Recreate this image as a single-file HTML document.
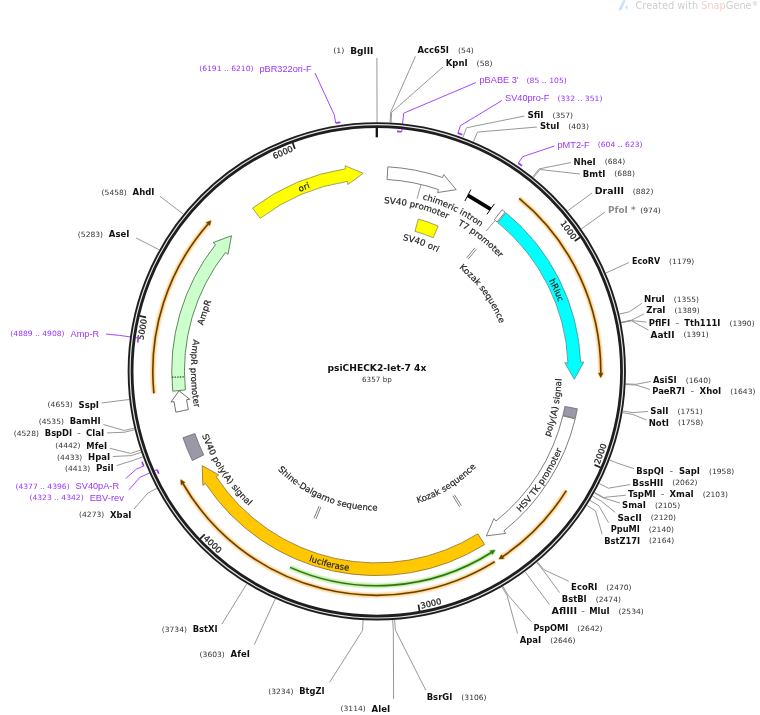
<!DOCTYPE html>
<html lang="en"><head><meta charset="utf-8"><title>psiCHECK2-let-7 4x</title>
<style>
html,body{margin:0;padding:0;background:#fff;}
body{width:760px;height:715px;overflow:hidden;}
svg{display:block;}
text{white-space:pre;}
</style></head><body>
<svg width="760" height="715" viewBox="0 0 760 715">
<defs>
<path id="tp1" d="M281.87,200.71 A194.76,194.76 0 0,1 329.43,182.01"/>
<path id="tp2" d="M364.09,203.63 A167.86,167.86 0 0,1 465.05,228.57"/>
<path id="tp3" d="M402.72,195.16 A177.86,177.86 0 0,1 496.03,239.52"/>
<path id="tp4" d="M439.6,216.12 A167.36,167.36 0 0,1 512.28,273.48"/>
<path id="tp5" d="M382.7,237.64 A133.56,133.56 0 0,1 454.36,262.67"/>
<path id="tp6" d="M442.63,256.85 A132.06,132.06 0 0,1 505.32,342.86"/>
<path id="tp7" d="M538.58,263.37 A194.76,194.76 0 0,1 564.58,321.22"/>
<path id="tp8" d="M541.49,455.32 A185.44,185.44 0 0,0 561.32,358.63"/>
<path id="tp9" d="M505.5,525.86 A201.64,201.64 0 0,0 568.79,431.09"/>
<path id="tp10" d="M398.26,507.74 A138.44,138.44 0 0,0 488.96,451.51"/>
<path id="tp11" d="M290.39,553.47 A201.64,201.64 0 0,0 368.79,572.55"/>
<path id="tp12" d="M264.65,454.58 A139.44,139.44 0 0,0 397.5,508.87"/>
<path id="tp13" d="M196.09,416.05 A185.74,185.74 0 0,0 263.93,518.95"/>
<path id="tp14" d="M198.04,319.93 A185.44,185.44 0 0,0 199.5,426.99"/>
<path id="tp15" d="M199.13,345.13 A179.06,179.06 0 0,1 220.16,283.4"/>
</defs>
<polyline points="376.8,127.45 376.8,137.3" fill="none" stroke="#111" stroke-width="2.3"/>
<polyline points="580.28,237.28 574.73,240.94" fill="none" stroke="#222" stroke-width="1.7"/>
<text x="568.64" y="232.92" font-family='"DejaVu Sans", "Liberation Sans", sans-serif' font-size="8.3" fill="#222" stroke="#222" stroke-width="0.25" text-anchor="middle" textLength="21.11" lengthAdjust="spacingAndGlyphs" transform="rotate(53.61 568.64 229.93)">1000</text>
<polyline points="600.65,467.52 594.54,464.9" fill="none" stroke="#222" stroke-width="1.7"/>
<text x="600.38" y="456.74" font-family='"DejaVu Sans", "Liberation Sans", sans-serif' font-size="8.3" fill="#222" stroke="#222" stroke-width="0.25" text-anchor="middle" textLength="21.11" lengthAdjust="spacingAndGlyphs" transform="rotate(290.24 600.38 453.75)">2000</text>
<polyline points="419.56,611.17 418.4,604.62" fill="none" stroke="#222" stroke-width="1.7"/>
<text x="430.92" y="606.36" font-family='"DejaVu Sans", "Liberation Sans", sans-serif' font-size="8.3" fill="#222" stroke="#222" stroke-width="0.25" text-anchor="middle" textLength="21.11" lengthAdjust="spacingAndGlyphs" transform="rotate(346.87 430.92 603.37)">3000</text>
<polyline points="200,538.95 204.82,534.37" fill="none" stroke="#222" stroke-width="1.7"/>
<text x="212.75" y="547.13" font-family='"DejaVu Sans", "Liberation Sans", sans-serif' font-size="8.3" fill="#222" stroke="#222" stroke-width="0.25" text-anchor="middle" textLength="21.11" lengthAdjust="spacingAndGlyphs" transform="rotate(403.5 212.75 544.15)">4000</text>
<polyline points="139.54,315.86 146.02,317.37" fill="none" stroke="#222" stroke-width="1.7"/>
<text x="142.22" y="332.36" font-family='"DejaVu Sans", "Liberation Sans", sans-serif' font-size="8.3" fill="#222" stroke="#222" stroke-width="0.25" text-anchor="middle" textLength="21.11" lengthAdjust="spacingAndGlyphs" transform="rotate(280.13 142.22 329.37)">5000</text>
<polyline points="292.6,142.66 294.9,148.9" fill="none" stroke="#222" stroke-width="1.7"/>
<text x="282.79" y="155.32" font-family='"DejaVu Sans", "Liberation Sans", sans-serif' font-size="8.3" fill="#222" stroke="#222" stroke-width="0.25" text-anchor="middle" textLength="21.11" lengthAdjust="spacingAndGlyphs" transform="rotate(336.76 282.79 152.33)">6000</text>
<path d="M519.2,198.39 A224,224 0 0,1 600.79,373.24" fill="none" stroke="#ffac28" stroke-width="6.4" stroke-opacity="0.14" stroke-linecap="butt"/>
<path d="M519.2,198.39 A224,224 0 0,1 600.79,373.24" fill="none" stroke="#ffac28" stroke-width="5" stroke-opacity="0.2"/>
<path d="M519.2,198.39 A224,224 0 0,1 600.79,373.24" fill="none" stroke="#ffac28" stroke-width="3.4" stroke-opacity="0.36"/>
<path d="M602.99,373.26 L600.72,377.44 L598.59,373.22 Z" fill="#ffac28" stroke="#ffac28" stroke-width="2.4" stroke-opacity="0.35" stroke-linejoin="round"/>
<path d="M519.2,198.39 A224,224 0 0,1 600.79,373.24" fill="none" stroke="#664000" stroke-width="1.6"/>
<path d="M602.99,373.26 L600.72,377.44 L598.59,373.22 Z" fill="#664000" stroke="#664000" stroke-width="0.5"/>
<path d="M566.33,490.69 A224,224 0 0,1 502.63,556.62" fill="none" stroke="#ffac28" stroke-width="6.4" stroke-opacity="0.14" stroke-linecap="butt"/>
<path d="M566.33,490.69 A224,224 0 0,1 502.63,556.62" fill="none" stroke="#ffac28" stroke-width="5" stroke-opacity="0.2"/>
<path d="M566.33,490.69 A224,224 0 0,1 502.63,556.62" fill="none" stroke="#ffac28" stroke-width="3.4" stroke-opacity="0.36"/>
<path d="M503.86,558.44 L499.13,558.95 L501.39,554.8 Z" fill="#ffac28" stroke="#ffac28" stroke-width="2.4" stroke-opacity="0.35" stroke-linejoin="round"/>
<path d="M566.33,490.69 A224,224 0 0,1 502.63,556.62" fill="none" stroke="#664000" stroke-width="1.6"/>
<path d="M503.86,558.44 L499.13,558.95 L501.39,554.8 Z" fill="#664000" stroke="#664000" stroke-width="0.5"/>
<path d="M494.83,561.68 A224,224 0 0,1 182.92,483.49" fill="none" stroke="#ffac28" stroke-width="6.4" stroke-opacity="0.14" stroke-linecap="butt"/>
<path d="M494.83,561.68 A224,224 0 0,1 182.92,483.49" fill="none" stroke="#ffac28" stroke-width="5" stroke-opacity="0.2"/>
<path d="M494.83,561.68 A224,224 0 0,1 182.92,483.49" fill="none" stroke="#ffac28" stroke-width="3.4" stroke-opacity="0.36"/>
<path d="M181.01,484.59 L180.85,479.83 L184.82,482.38 Z" fill="#ffac28" stroke="#ffac28" stroke-width="2.4" stroke-opacity="0.35" stroke-linejoin="round"/>
<path d="M494.83,561.68 A224,224 0 0,1 182.92,483.49" fill="none" stroke="#664000" stroke-width="1.6"/>
<path d="M181.01,484.59 L180.85,479.83 L184.82,482.38 Z" fill="#664000" stroke="#664000" stroke-width="0.5"/>
<path d="M153.89,393.35 A224,224 0 0,1 208.08,223.96" fill="none" stroke="#ffac28" stroke-width="6.4" stroke-opacity="0.14" stroke-linecap="butt"/>
<path d="M153.89,393.35 A224,224 0 0,1 208.08,223.96" fill="none" stroke="#ffac28" stroke-width="5" stroke-opacity="0.2"/>
<path d="M153.89,393.35 A224,224 0 0,1 208.08,223.96" fill="none" stroke="#ffac28" stroke-width="3.4" stroke-opacity="0.36"/>
<path d="M206.42,222.51 L210.87,220.82 L209.73,225.41 Z" fill="#ffac28" stroke="#ffac28" stroke-width="2.4" stroke-opacity="0.35" stroke-linejoin="round"/>
<path d="M153.89,393.35 A224,224 0 0,1 208.08,223.96" fill="none" stroke="#664000" stroke-width="1.6"/>
<path d="M206.42,222.51 L210.87,220.82 L209.73,225.41 Z" fill="#664000" stroke="#664000" stroke-width="0.5"/>
<path d="M290.04,567.36 A214.4,214.4 0 0,0 491.42,552.49" fill="none" stroke="#8fe050" stroke-width="6.4" stroke-opacity="0.14" stroke-linecap="butt"/>
<path d="M290.04,567.36 A214.4,214.4 0 0,0 491.42,552.49" fill="none" stroke="#8fe050" stroke-width="5" stroke-opacity="0.2"/>
<path d="M290.04,567.36 A214.4,214.4 0 0,0 491.42,552.49" fill="none" stroke="#8fe050" stroke-width="3.4" stroke-opacity="0.36"/>
<path d="M492.6,554.35 L494.95,550.21 L490.25,550.63 Z" fill="#8fe050" stroke="#8fe050" stroke-width="2.4" stroke-opacity="0.35" stroke-linejoin="round"/>
<path d="M290.04,567.36 A214.4,214.4 0 0,0 491.42,552.49" fill="none" stroke="#2f7318" stroke-width="1.6"/>
<path d="M492.6,554.35 L494.95,550.21 L490.25,550.63 Z" fill="#2f7318" stroke="#2f7318" stroke-width="0.5"/>
<path d="M252.61,208.13 A204.55,204.55 0 0,1 345.53,168.83 L345.06,165.71 L363.18,173.28 L347.92,184.5 L347.44,181.38 A191.85,191.85 0 0,0 260.29,218.25 Z" fill="#ffff00" stroke="#8a8a55" stroke-width="0.8" stroke-linejoin="miter"/>
<path d="M387.82,166.82 A204.55,204.55 0 0,1 442.65,177.56 L443.67,174.58 L456.23,189.68 L437.51,192.55 L438.53,189.57 A191.85,191.85 0 0,0 387.1,179.5 Z" fill="#ffffff" stroke="#787878" stroke-width="0.95" stroke-linejoin="miter"/>
<path d="M418.32,219.1 A157.65,157.65 0 0,1 438.17,226.05 L433.18,237.73 A144.95,144.95 0 0,0 414.94,231.34 Z" fill="#ffff00" stroke="#8a8a55" stroke-width="0.8" stroke-linejoin="miter"/>
<polyline points="467.89,195.28 490.62,209.14" fill="none" stroke="#000" stroke-width="3.8"/>
<polyline points="464.93,200.96 470.84,189.6" fill="none" stroke="#000" stroke-width="1"/>
<polyline points="486.93,214.37 494.31,203.91" fill="none" stroke="#000" stroke-width="1"/>
<path d="M502.07,209.74 A204.55,204.55 0 0,1 505.08,212.13 L497.08,221.99 A191.85,191.85 0 0,0 494.26,219.75 Z" fill="#ffffff" stroke="#707070" stroke-width="0.9" stroke-linejoin="miter"/>
<path d="M505.86,212.76 A204.55,204.55 0 0,1 580.66,362.16 L583.8,362.02 L574.33,379.23 L564.82,362.84 L567.97,362.71 A191.85,191.85 0 0,0 497.82,222.59 Z" fill="#00ffff" stroke="#4a8f8f" stroke-width="0.8" stroke-linejoin="miter"/>
<path d="M577.34,408.79 A204.55,204.55 0 0,1 575.28,418.48 L562.92,415.53 A191.85,191.85 0 0,0 564.86,406.45 Z" fill="#9a9aa6" stroke="#6a6a78" stroke-width="0.8" stroke-linejoin="miter"/>
<path d="M575.18,418.87 A204.55,204.55 0 0,1 503.86,530.95 L505.82,533.42 L486.34,535.9 L493.97,518.56 L495.94,521.03 A191.85,191.85 0 0,0 562.83,415.9 Z" fill="#ffffff" stroke="#787878" stroke-width="0.95" stroke-linejoin="miter"/>
<path d="M484.6,544.58 A204.55,204.55 0 0,1 205.5,483.6 L202.87,485.34 L202.16,465.71 L218.74,474.88 L216.11,476.62 A191.85,191.85 0 0,0 477.87,533.8 Z" fill="#ffc800" stroke="#8a7030" stroke-width="0.8" stroke-linejoin="miter"/>
<path d="M192.33,460.47 A204.55,204.55 0 0,1 182.91,437.69 L194.92,433.55 A191.85,191.85 0 0,0 203.75,454.92 Z" fill="#9a9aa6" stroke="#6a6a78" stroke-width="0.8" stroke-linejoin="miter"/>
<path d="M175.92,412.16 A204.55,204.55 0 0,1 174.05,401.62 L170.93,402.1 L179.08,390.75 L189.72,399.26 L186.61,399.73 A191.85,191.85 0 0,0 188.37,409.61 Z" fill="#ffffff" stroke="#707070" stroke-width="1" stroke-linejoin="miter"/>
<path d="M172.74,391.18 A204.55,204.55 0 0,1 215.55,244.56 L213.07,242.62 L231.47,235.74 L228,254.36 L225.53,252.42 A191.85,191.85 0 0,0 185.38,389.93 Z" fill="#ccffcc" stroke="#4f7a4f" stroke-width="0.9" stroke-linejoin="miter"/>
<path d="M183.79,376.9 L171.99,377.26" stroke="#2a5a2a" stroke-width="1.3" stroke-dasharray="1.4,1.2" fill="none"/>
<polyline points="466.65,258.03 474.77,247.87" fill="none" stroke="#787878" stroke-width="0.95"/>
<polyline points="468.14,259.23 476.39,249.19" fill="none" stroke="#787878" stroke-width="0.95"/>
<polyline points="454.45,494.73 461.39,505.72" fill="none" stroke="#787878" stroke-width="0.95"/>
<polyline points="452.82,495.74 459.62,506.82" fill="none" stroke="#787878" stroke-width="0.95"/>
<polyline points="320.85,506.97 315.94,519.01" fill="none" stroke="#787878" stroke-width="0.95"/>
<polyline points="319.08,506.24 314.01,518.21" fill="none" stroke="#787878" stroke-width="0.95"/>
<text font-family='"DejaVu Sans", "Liberation Sans", sans-serif' font-size="8.6" fill="#222" stroke="#222" stroke-width="0.18" text-anchor="middle" textLength="11.25" lengthAdjust="spacingAndGlyphs"><textPath href="#tp1" startOffset="50%" textLength="11.25" lengthAdjust="spacingAndGlyphs">ori</textPath></text>
<text font-family='"DejaVu Sans", "Liberation Sans", sans-serif' font-size="8.6" fill="#222" stroke="#222" stroke-width="0.18" text-anchor="middle" textLength="65.73" lengthAdjust="spacingAndGlyphs"><textPath href="#tp2" startOffset="50%" textLength="65.73" lengthAdjust="spacingAndGlyphs">SV40 promoter</textPath></text>
<polyline points="420.89,185.02 417.04,198.8" fill="none" stroke="#8c8c8c" stroke-width="0.9"/>
<text font-family='"DejaVu Sans", "Liberation Sans", sans-serif' font-size="8.6" fill="#222" stroke="#222" stroke-width="0.18" text-anchor="middle" textLength="64.83" lengthAdjust="spacingAndGlyphs"><textPath href="#tp3" startOffset="50%" textLength="64.83" lengthAdjust="spacingAndGlyphs">chimeric intron</textPath></text>
<text font-family='"DejaVu Sans", "Liberation Sans", sans-serif' font-size="8.6" fill="#222" stroke="#222" stroke-width="0.18" text-anchor="middle" textLength="53.8" lengthAdjust="spacingAndGlyphs"><textPath href="#tp4" startOffset="50%" textLength="53.8" lengthAdjust="spacingAndGlyphs">T7 promoter</textPath></text>
<polyline points="495.13,220.49 486.16,231" fill="none" stroke="#8c8c8c" stroke-width="0.9"/>
<text font-family='"DejaVu Sans", "Liberation Sans", sans-serif' font-size="8.6" fill="#222" stroke="#222" stroke-width="0.18" text-anchor="middle" textLength="36.97" lengthAdjust="spacingAndGlyphs"><textPath href="#tp5" startOffset="50%" textLength="36.97" lengthAdjust="spacingAndGlyphs">SV40 ori</textPath></text>
<text font-family='"DejaVu Sans", "Liberation Sans", sans-serif' font-size="8.6" fill="#222" stroke="#222" stroke-width="0.18" text-anchor="middle" textLength="69.55" lengthAdjust="spacingAndGlyphs"><textPath href="#tp6" startOffset="50%" textLength="69.55" lengthAdjust="spacingAndGlyphs">Kozak sequence</textPath></text>
<text font-family='"DejaVu Sans", "Liberation Sans", sans-serif' font-size="8.6" fill="#222" stroke="#222" stroke-width="0.18" text-anchor="middle" textLength="23.7" lengthAdjust="spacingAndGlyphs"><textPath href="#tp7" startOffset="50%" textLength="23.7" lengthAdjust="spacingAndGlyphs">hRluc</textPath></text>
<text font-family='"DejaVu Sans", "Liberation Sans", sans-serif' font-size="8.6" fill="#222" stroke="#222" stroke-width="0.18" text-anchor="middle" textLength="59.91" lengthAdjust="spacingAndGlyphs"><textPath href="#tp8" startOffset="50%" textLength="59.91" lengthAdjust="spacingAndGlyphs">poly(A) signal</textPath></text>
<text font-family='"DejaVu Sans", "Liberation Sans", sans-serif' font-size="8.6" fill="#222" stroke="#222" stroke-width="0.18" text-anchor="middle" textLength="75.54" lengthAdjust="spacingAndGlyphs"><textPath href="#tp9" startOffset="50%" textLength="75.54" lengthAdjust="spacingAndGlyphs">HSV TK promoter</textPath></text>
<text font-family='"DejaVu Sans", "Liberation Sans", sans-serif' font-size="8.6" fill="#222" stroke="#222" stroke-width="0.18" text-anchor="middle" textLength="69.55" lengthAdjust="spacingAndGlyphs"><textPath href="#tp10" startOffset="50%" textLength="69.55" lengthAdjust="spacingAndGlyphs">Kozak sequence</textPath></text>
<text font-family='"DejaVu Sans", "Liberation Sans", sans-serif' font-size="8.6" fill="#222" stroke="#222" stroke-width="0.18" text-anchor="middle" textLength="41.23" lengthAdjust="spacingAndGlyphs"><textPath href="#tp11" startOffset="50%" textLength="41.23" lengthAdjust="spacingAndGlyphs">luciferase</textPath></text>
<text font-family='"DejaVu Sans", "Liberation Sans", sans-serif' font-size="8.6" fill="#222" stroke="#222" stroke-width="0.18" text-anchor="middle" textLength="110.75" lengthAdjust="spacingAndGlyphs"><textPath href="#tp12" startOffset="50%" textLength="110.75" lengthAdjust="spacingAndGlyphs">Shine-Dalgarno sequence</textPath></text>
<text font-family='"DejaVu Sans", "Liberation Sans", sans-serif' font-size="8.6" fill="#222" stroke="#222" stroke-width="0.18" text-anchor="middle" textLength="85.62" lengthAdjust="spacingAndGlyphs"><textPath href="#tp13" startOffset="50%" textLength="85.62" lengthAdjust="spacingAndGlyphs">SV40 poly(A) signal</textPath></text>
<text font-family='"DejaVu Sans", "Liberation Sans", sans-serif' font-size="8.6" fill="#222" stroke="#222" stroke-width="0.18" text-anchor="middle" textLength="68.62" lengthAdjust="spacingAndGlyphs"><textPath href="#tp14" startOffset="50%" textLength="68.62" lengthAdjust="spacingAndGlyphs">AmpR promoter</textPath></text>
<text font-family='"DejaVu Sans", "Liberation Sans", sans-serif' font-size="8.6" fill="#222" stroke="#222" stroke-width="0.18" text-anchor="middle" textLength="25.58" lengthAdjust="spacingAndGlyphs"><textPath href="#tp15" startOffset="50%" textLength="25.58" lengthAdjust="spacingAndGlyphs">AmpR</textPath></text>
<text x="376.9" y="371.26" font-family='"DejaVu Sans", "Liberation Sans", sans-serif' font-size="9.05" font-weight="bold" fill="#111" text-anchor="middle" textLength="98.98" lengthAdjust="spacingAndGlyphs">psiCHECK2-let-7 4x</text>
<text x="376.9" y="381.79" font-family='"DejaVu Sans", "Liberation Sans", sans-serif' font-size="7.2" fill="#333" text-anchor="middle" textLength="29.81" lengthAdjust="spacingAndGlyphs">6357 bp</text>
<text x="350.24" y="53.68" font-family='"DejaVu Sans", "Liberation Sans", sans-serif' font-size="8" font-weight="bold" fill="#111" text-anchor="start" textLength="23.16" lengthAdjust="spacingAndGlyphs">BglII</text>
<text x="344.44" y="53.43" font-family='"DejaVu Sans", "Liberation Sans", sans-serif' font-size="7.3" fill="#333" text-anchor="end" textLength="11.27" lengthAdjust="spacingAndGlyphs">(1)</text>
<polyline points="377.05,122.15 376.9,58" fill="none" stroke="#8c8c8c" stroke-width="0.9"/>
<text x="417.6" y="53.38" font-family='"DejaVu Sans", "Liberation Sans", sans-serif' font-size="8" font-weight="bold" fill="#111" text-anchor="start" textLength="31.37" lengthAdjust="spacingAndGlyphs">Acc65I</text>
<text x="457.97" y="53.13" font-family='"DejaVu Sans", "Liberation Sans", sans-serif' font-size="7.3" fill="#333" text-anchor="start" textLength="15.91" lengthAdjust="spacingAndGlyphs">(54)</text>
<polyline points="390.09,122.5 390.64,112.17 415.5,56.3" fill="none" stroke="#8c8c8c" stroke-width="0.9"/>
<text x="445.8" y="65.78" font-family='"DejaVu Sans", "Liberation Sans", sans-serif' font-size="8" font-weight="bold" fill="#111" text-anchor="start" textLength="21.83" lengthAdjust="spacingAndGlyphs">KpnI</text>
<text x="476.63" y="65.53" font-family='"DejaVu Sans", "Liberation Sans", sans-serif' font-size="7.3" fill="#333" text-anchor="start" textLength="15.91" lengthAdjust="spacingAndGlyphs">(58)</text>
<polyline points="391.08,122.56 391.67,112.23 443,67" fill="none" stroke="#8c8c8c" stroke-width="0.9"/>
<text x="479.5" y="83.31" font-family='"Liberation Sans", "DejaVu Sans", sans-serif' font-size="9.2" fill="#9933ff" text-anchor="start" textLength="39.09" lengthAdjust="spacingAndGlyphs">pBABE 3'</text>
<text x="526.59" y="82.63" font-family='"DejaVu Sans", "Liberation Sans", sans-serif' font-size="7.3" fill="#9933ff" text-anchor="start" textLength="40.28" lengthAdjust="spacingAndGlyphs">(85 .. 105)</text>
<path d="M397.01,131.35 A240.8,240.8 0 0,1 401.75,131.8" fill="none" stroke="#9933ff" stroke-width="1.6"/>
<polyline points="401.75,131.8 403.68,113.2 476,82.5" fill="none" stroke="#9933ff" stroke-width="0.9"/>
<text x="505" y="101.21" font-family='"Liberation Sans", "DejaVu Sans", sans-serif' font-size="9.2" fill="#9933ff" text-anchor="start" textLength="44.48" lengthAdjust="spacingAndGlyphs">SV40pro-F</text>
<text x="557.48" y="100.53" font-family='"DejaVu Sans", "Liberation Sans", sans-serif' font-size="7.3" fill="#9933ff" text-anchor="start" textLength="44.92" lengthAdjust="spacingAndGlyphs">(332 .. 351)</text>
<path d="M457.89,133.12 A251.6,251.6 0 0,1 462.35,134.69" fill="none" stroke="#9933ff" stroke-width="1.6"/>
<polyline points="457.89,133.12 460.43,125.65 502,100.5" fill="none" stroke="#9933ff" stroke-width="0.9"/>
<text x="527.4" y="117.88" font-family='"DejaVu Sans", "Liberation Sans", sans-serif' font-size="8" font-weight="bold" fill="#111" text-anchor="start" textLength="16.16" lengthAdjust="spacingAndGlyphs">SfiI</text>
<text x="552.56" y="117.63" font-family='"DejaVu Sans", "Liberation Sans", sans-serif' font-size="7.3" fill="#333" text-anchor="start" textLength="20.55" lengthAdjust="spacingAndGlyphs">(357)</text>
<polyline points="462.9,137.5 466.48,127.79 524.5,116" fill="none" stroke="#8c8c8c" stroke-width="0.9"/>
<text x="540" y="129.08" font-family='"DejaVu Sans", "Liberation Sans", sans-serif' font-size="8" font-weight="bold" fill="#111" text-anchor="start" textLength="19.39" lengthAdjust="spacingAndGlyphs">StuI</text>
<text x="568.39" y="128.83" font-family='"DejaVu Sans", "Liberation Sans", sans-serif' font-size="7.3" fill="#333" text-anchor="start" textLength="20.55" lengthAdjust="spacingAndGlyphs">(403)</text>
<polyline points="473.44,141.66 477.45,132.12 537,127" fill="none" stroke="#8c8c8c" stroke-width="0.9"/>
<text x="557.5" y="147.91" font-family='"Liberation Sans", "DejaVu Sans", sans-serif' font-size="9.2" fill="#9933ff" text-anchor="start" textLength="32.2" lengthAdjust="spacingAndGlyphs">pMT2-F</text>
<text x="597.7" y="147.23" font-family='"DejaVu Sans", "Liberation Sans", sans-serif' font-size="7.3" fill="#9933ff" text-anchor="start" textLength="44.92" lengthAdjust="spacingAndGlyphs">(604 .. 623)</text>
<path d="M518.24,163.22 A251.6,251.6 0 0,1 522.12,165.91" fill="none" stroke="#9933ff" stroke-width="1.6"/>
<polyline points="518.24,163.22 522.68,156.68 554.5,146" fill="none" stroke="#9933ff" stroke-width="0.9"/>
<text x="573.6" y="164.58" font-family='"DejaVu Sans", "Liberation Sans", sans-serif' font-size="8" font-weight="bold" fill="#111" text-anchor="start" textLength="22.15" lengthAdjust="spacingAndGlyphs">NheI</text>
<text x="604.75" y="164.33" font-family='"DejaVu Sans", "Liberation Sans", sans-serif' font-size="7.3" fill="#333" text-anchor="start" textLength="20.55" lengthAdjust="spacingAndGlyphs">(684)</text>
<polyline points="532.7,176.95 539.18,168.88 571,162.5" fill="none" stroke="#8c8c8c" stroke-width="0.9"/>
<text x="582.8" y="176.58" font-family='"DejaVu Sans", "Liberation Sans", sans-serif' font-size="8" font-weight="bold" fill="#111" text-anchor="start" textLength="22.57" lengthAdjust="spacingAndGlyphs">BmtI</text>
<text x="614.37" y="176.33" font-family='"DejaVu Sans", "Liberation Sans", sans-serif' font-size="7.3" fill="#333" text-anchor="start" textLength="20.55" lengthAdjust="spacingAndGlyphs">(688)</text>
<polyline points="533.47,177.57 539.97,169.52 580,174" fill="none" stroke="#8c8c8c" stroke-width="0.9"/>
<text x="594.8" y="194.08" font-family='"DejaVu Sans", "Liberation Sans", sans-serif' font-size="8" font-weight="bold" fill="#111" text-anchor="start" textLength="29.06" lengthAdjust="spacingAndGlyphs">DraIII</text>
<text x="632.86" y="193.83" font-family='"DejaVu Sans", "Liberation Sans", sans-serif' font-size="7.3" fill="#333" text-anchor="start" textLength="20.55" lengthAdjust="spacingAndGlyphs">(882)</text>
<polyline points="567.51,210.98 592,193" fill="none" stroke="#8c8c8c" stroke-width="0.9"/>
<text x="608.1" y="212.88" font-family='"DejaVu Sans", "Liberation Sans", sans-serif' font-size="8" font-weight="bold" fill="#8c8c8c" text-anchor="start" textLength="27.53" lengthAdjust="spacingAndGlyphs">PfoI *</text>
<text x="640.23" y="212.63" font-family='"DejaVu Sans", "Liberation Sans", sans-serif' font-size="7.3" fill="#333" text-anchor="start" textLength="20.55" lengthAdjust="spacingAndGlyphs">(974)</text>
<polyline points="581.29,228.96 605,212" fill="none" stroke="#8c8c8c" stroke-width="0.9"/>
<text x="632.1" y="264.18" font-family='"DejaVu Sans", "Liberation Sans", sans-serif' font-size="8" font-weight="bold" fill="#111" text-anchor="start" textLength="28.04" lengthAdjust="spacingAndGlyphs">EcoRV</text>
<text x="669.14" y="263.93" font-family='"DejaVu Sans", "Liberation Sans", sans-serif' font-size="7.3" fill="#333" text-anchor="start" textLength="25.19" lengthAdjust="spacingAndGlyphs">(1179)</text>
<polyline points="605.75,273.02 629,262.5" fill="none" stroke="#8c8c8c" stroke-width="0.9"/>
<text x="644" y="302.08" font-family='"DejaVu Sans", "Liberation Sans", sans-serif' font-size="8" font-weight="bold" fill="#111" text-anchor="start" textLength="20.82" lengthAdjust="spacingAndGlyphs">NruI</text>
<text x="673.82" y="301.83" font-family='"DejaVu Sans", "Liberation Sans", sans-serif' font-size="7.3" fill="#333" text-anchor="start" textLength="25.19" lengthAdjust="spacingAndGlyphs">(1355)</text>
<polyline points="619.3,314.13 629.38,311.75 641.8,303.38" fill="none" stroke="#8c8c8c" stroke-width="0.9"/>
<text x="646.3" y="313.48" font-family='"DejaVu Sans", "Liberation Sans", sans-serif' font-size="8" font-weight="bold" fill="#111" text-anchor="start" textLength="19.22" lengthAdjust="spacingAndGlyphs">ZraI</text>
<text x="674.52" y="313.23" font-family='"DejaVu Sans", "Liberation Sans", sans-serif' font-size="7.3" fill="#333" text-anchor="start" textLength="25.19" lengthAdjust="spacingAndGlyphs">(1389)</text>
<polyline points="621.09,322.31 631.23,320.27 644.1,313.82" fill="none" stroke="#8c8c8c" stroke-width="0.9"/>
<text x="648.7" y="325.78" font-family='"DejaVu Sans", "Liberation Sans", sans-serif' font-size="8" font-weight="bold" fill="#111" text-anchor="start" textLength="21.55" lengthAdjust="spacingAndGlyphs">PflFI</text>
<text x="677.22" y="325.78" font-family='"DejaVu Sans", "Liberation Sans", sans-serif' font-size="8" fill="#555" text-anchor="middle" textLength="3.63" lengthAdjust="spacingAndGlyphs">-</text>
<text x="684.2" y="325.78" font-family='"DejaVu Sans", "Liberation Sans", sans-serif' font-size="8" font-weight="bold" fill="#111" text-anchor="start" textLength="36.23" lengthAdjust="spacingAndGlyphs">Tth111I</text>
<text x="729.43" y="325.53" font-family='"DejaVu Sans", "Liberation Sans", sans-serif' font-size="7.3" fill="#333" text-anchor="start" textLength="25.19" lengthAdjust="spacingAndGlyphs">(1390)</text>
<polyline points="621.13,322.55 631.28,320.52 646.5,322.11" fill="none" stroke="#8c8c8c" stroke-width="0.9"/>
<text x="650.6" y="337.58" font-family='"DejaVu Sans", "Liberation Sans", sans-serif' font-size="8" font-weight="bold" fill="#111" text-anchor="start" textLength="23.93" lengthAdjust="spacingAndGlyphs">AatII</text>
<text x="683.53" y="337.33" font-family='"DejaVu Sans", "Liberation Sans", sans-serif' font-size="7.3" fill="#333" text-anchor="start" textLength="25.19" lengthAdjust="spacingAndGlyphs">(1391)</text>
<polyline points="621.18,322.79 631.33,320.78 648.4,330.06" fill="none" stroke="#8c8c8c" stroke-width="0.9"/>
<text x="653" y="382.98" font-family='"DejaVu Sans", "Liberation Sans", sans-serif' font-size="8" font-weight="bold" fill="#111" text-anchor="start" textLength="23.74" lengthAdjust="spacingAndGlyphs">AsiSI</text>
<text x="685.74" y="382.73" font-family='"DejaVu Sans", "Liberation Sans", sans-serif' font-size="7.3" fill="#333" text-anchor="start" textLength="25.19" lengthAdjust="spacingAndGlyphs">(1640)</text>
<polyline points="625.64,383.79 635.97,384.31 650.8,381.5" fill="none" stroke="#8c8c8c" stroke-width="0.9"/>
<text x="652.2" y="394.38" font-family='"DejaVu Sans", "Liberation Sans", sans-serif' font-size="8" font-weight="bold" fill="#111" text-anchor="start" textLength="32.83" lengthAdjust="spacingAndGlyphs">PaeR7I</text>
<text x="692.32" y="394.38" font-family='"DejaVu Sans", "Liberation Sans", sans-serif' font-size="8" fill="#555" text-anchor="middle" textLength="3.63" lengthAdjust="spacingAndGlyphs">-</text>
<text x="699.6" y="394.38" font-family='"DejaVu Sans", "Liberation Sans", sans-serif' font-size="8" font-weight="bold" fill="#111" text-anchor="start" textLength="21.68" lengthAdjust="spacingAndGlyphs">XhoI</text>
<text x="730.28" y="394.13" font-family='"DejaVu Sans", "Liberation Sans", sans-serif' font-size="7.3" fill="#333" text-anchor="start" textLength="25.19" lengthAdjust="spacingAndGlyphs">(1643)</text>
<polyline points="625.6,384.53 635.93,385.08 650,389.36" fill="none" stroke="#8c8c8c" stroke-width="0.9"/>
<text x="650.3" y="413.78" font-family='"DejaVu Sans", "Liberation Sans", sans-serif' font-size="8" font-weight="bold" fill="#111" text-anchor="start" textLength="18.13" lengthAdjust="spacingAndGlyphs">SalI</text>
<text x="677.43" y="413.53" font-family='"DejaVu Sans", "Liberation Sans", sans-serif' font-size="7.3" fill="#333" text-anchor="start" textLength="25.19" lengthAdjust="spacingAndGlyphs">(1751)</text>
<polyline points="622.77,410.96 632.99,412.61 648.1,411.47" fill="none" stroke="#8c8c8c" stroke-width="0.9"/>
<text x="648.7" y="425.68" font-family='"DejaVu Sans", "Liberation Sans", sans-serif' font-size="8" font-weight="bold" fill="#111" text-anchor="start" textLength="20.28" lengthAdjust="spacingAndGlyphs">NotI</text>
<text x="677.98" y="425.43" font-family='"DejaVu Sans", "Liberation Sans", sans-serif' font-size="7.3" fill="#333" text-anchor="start" textLength="25.19" lengthAdjust="spacingAndGlyphs">(1758)</text>
<polyline points="622.49,412.66 632.7,414.38 646.5,419.99" fill="none" stroke="#8c8c8c" stroke-width="0.9"/>
<text x="636.3" y="473.98" font-family='"DejaVu Sans", "Liberation Sans", sans-serif' font-size="8" font-weight="bold" fill="#111" text-anchor="start" textLength="27.6" lengthAdjust="spacingAndGlyphs">BspQI</text>
<text x="671.45" y="473.98" font-family='"DejaVu Sans", "Liberation Sans", sans-serif' font-size="8" fill="#555" text-anchor="middle" textLength="3.63" lengthAdjust="spacingAndGlyphs">-</text>
<text x="679" y="473.98" font-family='"DejaVu Sans", "Liberation Sans", sans-serif' font-size="8" font-weight="bold" fill="#111" text-anchor="start" textLength="20.99" lengthAdjust="spacingAndGlyphs">SapI</text>
<text x="708.99" y="473.73" font-family='"DejaVu Sans", "Liberation Sans", sans-serif' font-size="7.3" fill="#333" text-anchor="start" textLength="25.19" lengthAdjust="spacingAndGlyphs">(1958)</text>
<polyline points="609.58,460.11 619.25,463.8 634.1,468.67" fill="none" stroke="#8c8c8c" stroke-width="0.9"/>
<text x="632.3" y="485.58" font-family='"DejaVu Sans", "Liberation Sans", sans-serif' font-size="8" font-weight="bold" fill="#111" text-anchor="start" textLength="31.02" lengthAdjust="spacingAndGlyphs">BssHII</text>
<text x="672.32" y="485.33" font-family='"DejaVu Sans", "Liberation Sans", sans-serif' font-size="7.3" fill="#333" text-anchor="start" textLength="25.19" lengthAdjust="spacingAndGlyphs">(2062)</text>
<polyline points="599.24,483.53 608.48,488.19 630.1,484.53" fill="none" stroke="#8c8c8c" stroke-width="0.9"/>
<text x="628" y="496.98" font-family='"DejaVu Sans", "Liberation Sans", sans-serif' font-size="8" font-weight="bold" fill="#111" text-anchor="start" textLength="27.74" lengthAdjust="spacingAndGlyphs">TspMI</text>
<text x="662.62" y="496.98" font-family='"DejaVu Sans", "Liberation Sans", sans-serif' font-size="8" fill="#555" text-anchor="middle" textLength="3.63" lengthAdjust="spacingAndGlyphs">-</text>
<text x="669.5" y="496.98" font-family='"DejaVu Sans", "Liberation Sans", sans-serif' font-size="8" font-weight="bold" fill="#111" text-anchor="start" textLength="24.29" lengthAdjust="spacingAndGlyphs">XmaI</text>
<text x="702.79" y="496.73" font-family='"DejaVu Sans", "Liberation Sans", sans-serif' font-size="7.3" fill="#333" text-anchor="start" textLength="25.19" lengthAdjust="spacingAndGlyphs">(2103)</text>
<polyline points="594.51,492.45 603.56,497.48 625.8,495.23" fill="none" stroke="#8c8c8c" stroke-width="0.9"/>
<text x="622.1" y="508.38" font-family='"DejaVu Sans", "Liberation Sans", sans-serif' font-size="8" font-weight="bold" fill="#111" text-anchor="start" textLength="23.86" lengthAdjust="spacingAndGlyphs">SmaI</text>
<text x="654.96" y="508.13" font-family='"DejaVu Sans", "Liberation Sans", sans-serif' font-size="7.3" fill="#333" text-anchor="start" textLength="25.19" lengthAdjust="spacingAndGlyphs">(2105)</text>
<polyline points="594.27,492.88 603.31,497.93 619.9,502.98" fill="none" stroke="#8c8c8c" stroke-width="0.9"/>
<text x="617.4" y="520.68" font-family='"DejaVu Sans", "Liberation Sans", sans-serif' font-size="8" font-weight="bold" fill="#111" text-anchor="start" textLength="24.47" lengthAdjust="spacingAndGlyphs">SacII</text>
<text x="650.87" y="520.43" font-family='"DejaVu Sans", "Liberation Sans", sans-serif' font-size="7.3" fill="#333" text-anchor="start" textLength="25.19" lengthAdjust="spacingAndGlyphs">(2120)</text>
<polyline points="592.45,496.09 601.41,501.27 615.2,512.29" fill="none" stroke="#8c8c8c" stroke-width="0.9"/>
<text x="610.7" y="531.98" font-family='"DejaVu Sans", "Liberation Sans", sans-serif' font-size="8" font-weight="bold" fill="#111" text-anchor="start" textLength="29.1" lengthAdjust="spacingAndGlyphs">PpuMI</text>
<text x="648.8" y="531.73" font-family='"DejaVu Sans", "Liberation Sans", sans-serif' font-size="7.3" fill="#333" text-anchor="start" textLength="25.19" lengthAdjust="spacingAndGlyphs">(2140)</text>
<polyline points="589.94,500.33 598.79,505.69 608.5,522.6" fill="none" stroke="#8c8c8c" stroke-width="0.9"/>
<text x="604.3" y="543.58" font-family='"DejaVu Sans", "Liberation Sans", sans-serif' font-size="8" font-weight="bold" fill="#111" text-anchor="start" textLength="35.76" lengthAdjust="spacingAndGlyphs">BstZ17I</text>
<text x="649.06" y="543.33" font-family='"DejaVu Sans", "Liberation Sans", sans-serif' font-size="7.3" fill="#333" text-anchor="start" textLength="25.19" lengthAdjust="spacingAndGlyphs">(2164)</text>
<polyline points="586.82,505.35 595.54,510.91 602.1,534.2" fill="none" stroke="#8c8c8c" stroke-width="0.9"/>
<text x="571.1" y="589.98" font-family='"DejaVu Sans", "Liberation Sans", sans-serif' font-size="8" font-weight="bold" fill="#111" text-anchor="start" textLength="26.29" lengthAdjust="spacingAndGlyphs">EcoRI</text>
<text x="606.39" y="589.73" font-family='"DejaVu Sans", "Liberation Sans", sans-serif' font-size="7.3" fill="#333" text-anchor="start" textLength="25.19" lengthAdjust="spacingAndGlyphs">(2470)</text>
<polyline points="537.36,561.82 544.03,569.73 568.9,581.31" fill="none" stroke="#8c8c8c" stroke-width="0.9"/>
<text x="561.8" y="601.98" font-family='"DejaVu Sans", "Liberation Sans", sans-serif' font-size="8" font-weight="bold" fill="#111" text-anchor="start" textLength="24.95" lengthAdjust="spacingAndGlyphs">BstBI</text>
<text x="595.75" y="601.73" font-family='"DejaVu Sans", "Liberation Sans", sans-serif' font-size="7.3" fill="#333" text-anchor="start" textLength="25.19" lengthAdjust="spacingAndGlyphs">(2474)</text>
<polyline points="536.6,562.45 543.24,570.39 559.6,592.6" fill="none" stroke="#8c8c8c" stroke-width="0.9"/>
<text x="551.6" y="613.88" font-family='"DejaVu Sans", "Liberation Sans", sans-serif' font-size="8" font-weight="bold" fill="#111" text-anchor="start" textLength="25.43" lengthAdjust="spacingAndGlyphs">AflIII</text>
<text x="583.11" y="613.88" font-family='"DejaVu Sans", "Liberation Sans", sans-serif' font-size="8" fill="#555" text-anchor="middle" textLength="3.63" lengthAdjust="spacingAndGlyphs">-</text>
<text x="589.2" y="613.88" font-family='"DejaVu Sans", "Liberation Sans", sans-serif' font-size="8" font-weight="bold" fill="#111" text-anchor="start" textLength="20.38" lengthAdjust="spacingAndGlyphs">MluI</text>
<text x="618.58" y="613.63" font-family='"DejaVu Sans", "Liberation Sans", sans-serif' font-size="7.3" fill="#333" text-anchor="start" textLength="25.19" lengthAdjust="spacingAndGlyphs">(2534)</text>
<polyline points="524.99,571.59 531.15,579.91 549.4,604.5" fill="none" stroke="#8c8c8c" stroke-width="0.9"/>
<text x="533.4" y="631.08" font-family='"DejaVu Sans", "Liberation Sans", sans-serif' font-size="8" font-weight="bold" fill="#111" text-anchor="start" textLength="34.95" lengthAdjust="spacingAndGlyphs">PspOMI</text>
<text x="577.35" y="630.83" font-family='"DejaVu Sans", "Liberation Sans", sans-serif' font-size="7.3" fill="#333" text-anchor="start" textLength="25.19" lengthAdjust="spacingAndGlyphs">(2642)</text>
<polyline points="502.81,586.23 508.05,595.16 531.2,621.7" fill="none" stroke="#8c8c8c" stroke-width="0.9"/>
<text x="519.7" y="642.98" font-family='"DejaVu Sans", "Liberation Sans", sans-serif' font-size="8" font-weight="bold" fill="#111" text-anchor="start" textLength="21.52" lengthAdjust="spacingAndGlyphs">ApaI</text>
<text x="550.22" y="642.73" font-family='"DejaVu Sans", "Liberation Sans", sans-serif' font-size="7.3" fill="#333" text-anchor="start" textLength="25.19" lengthAdjust="spacingAndGlyphs">(2646)</text>
<polyline points="501.96,586.73 507.16,595.68 517.5,633.6" fill="none" stroke="#8c8c8c" stroke-width="0.9"/>
<text x="426.7" y="700.18" font-family='"DejaVu Sans", "Liberation Sans", sans-serif' font-size="8" font-weight="bold" fill="#111" text-anchor="start" textLength="25.67" lengthAdjust="spacingAndGlyphs">BsrGI</text>
<text x="461.37" y="699.93" font-family='"DejaVu Sans", "Liberation Sans", sans-serif' font-size="7.3" fill="#333" text-anchor="start" textLength="25.19" lengthAdjust="spacingAndGlyphs">(3106)</text>
<polyline points="394.64,619.81 395.38,630.13 425.7,690" fill="none" stroke="#8c8c8c" stroke-width="0.9"/>
<text x="371.57" y="711.58" font-family='"DejaVu Sans", "Liberation Sans", sans-serif' font-size="8" font-weight="bold" fill="#111" text-anchor="start" textLength="18.62" lengthAdjust="spacingAndGlyphs">AleI</text>
<text x="365.77" y="711.33" font-family='"DejaVu Sans", "Liberation Sans", sans-serif' font-size="7.3" fill="#333" text-anchor="end" textLength="25.19" lengthAdjust="spacingAndGlyphs">(3114)</text>
<polyline points="392.67,619.94 393.33,630.27 393.6,699" fill="none" stroke="#8c8c8c" stroke-width="0.9"/>
<text x="299.27" y="693.78" font-family='"DejaVu Sans", "Liberation Sans", sans-serif' font-size="8" font-weight="bold" fill="#111" text-anchor="start" textLength="25.23" lengthAdjust="spacingAndGlyphs">BtgZI</text>
<text x="293.47" y="693.53" font-family='"DejaVu Sans", "Liberation Sans", sans-serif' font-size="7.3" fill="#333" text-anchor="end" textLength="25.19" lengthAdjust="spacingAndGlyphs">(3234)</text>
<polyline points="363.14,620.08 362.57,630.41 329.6,682.4" fill="none" stroke="#8c8c8c" stroke-width="0.9"/>
<text x="230.63" y="656.88" font-family='"DejaVu Sans", "Liberation Sans", sans-serif' font-size="8" font-weight="bold" fill="#111" text-anchor="start" textLength="19.27" lengthAdjust="spacingAndGlyphs">AfeI</text>
<text x="224.83" y="656.63" font-family='"DejaVu Sans", "Liberation Sans", sans-serif' font-size="7.3" fill="#333" text-anchor="end" textLength="25.19" lengthAdjust="spacingAndGlyphs">(3603)</text>
<polyline points="275.3,598.84 254.3,644.7" fill="none" stroke="#8c8c8c" stroke-width="0.9"/>
<text x="192.74" y="632.18" font-family='"DejaVu Sans", "Liberation Sans", sans-serif' font-size="8" font-weight="bold" fill="#111" text-anchor="start" textLength="24.96" lengthAdjust="spacingAndGlyphs">BstXI</text>
<text x="186.94" y="631.93" font-family='"DejaVu Sans", "Liberation Sans", sans-serif' font-size="7.3" fill="#333" text-anchor="end" textLength="25.19" lengthAdjust="spacingAndGlyphs">(3734)</text>
<polyline points="246.77,583.83 221.8,624.2" fill="none" stroke="#8c8c8c" stroke-width="0.9"/>
<text x="110.08" y="517.68" font-family='"DejaVu Sans", "Liberation Sans", sans-serif' font-size="8" font-weight="bold" fill="#111" text-anchor="start" textLength="21.42" lengthAdjust="spacingAndGlyphs">XbaI</text>
<text x="104.28" y="517.43" font-family='"DejaVu Sans", "Liberation Sans", sans-serif' font-size="7.3" fill="#333" text-anchor="end" textLength="25.19" lengthAdjust="spacingAndGlyphs">(4273)</text>
<polyline points="156.85,488.34 147.71,493.2 134,509" fill="none" stroke="#8c8c8c" stroke-width="0.9"/>
<text x="89.65" y="501.11" font-family='"Liberation Sans", "DejaVu Sans", sans-serif' font-size="9.2" fill="#9933ff" text-anchor="start" textLength="34.25" lengthAdjust="spacingAndGlyphs">EBV-rev</text>
<text x="83.65" y="500.43" font-family='"DejaVu Sans", "Liberation Sans", sans-serif' font-size="7.3" fill="#9933ff" text-anchor="end" textLength="54.2" lengthAdjust="spacingAndGlyphs">(4323 .. 4342)</text>
<path d="M158.89,473.78 A240.8,240.8 0 0,1 157.01,469.67" fill="none" stroke="#9933ff" stroke-width="1.6"/>
<polyline points="157.01,469.67 139.94,477.3 129,489.8" fill="none" stroke="#9933ff" stroke-width="0.9"/>
<text x="75.64" y="489.21" font-family='"Liberation Sans", "DejaVu Sans", sans-serif' font-size="9.2" fill="#9933ff" text-anchor="start" textLength="43.46" lengthAdjust="spacingAndGlyphs">SV40pA-R</text>
<text x="69.64" y="488.53" font-family='"DejaVu Sans", "Liberation Sans", sans-serif' font-size="7.3" fill="#9933ff" text-anchor="end" textLength="54.2" lengthAdjust="spacingAndGlyphs">(4377 .. 4396)</text>
<path d="M143.73,466.07 A251.6,251.6 0 0,1 141.99,461.68" fill="none" stroke="#9933ff" stroke-width="1.6"/>
<polyline points="143.73,466.07 136.41,469.05 125.7,478.6" fill="none" stroke="#9933ff" stroke-width="0.9"/>
<text x="95.99" y="471.08" font-family='"DejaVu Sans", "Liberation Sans", sans-serif' font-size="8" font-weight="bold" fill="#111" text-anchor="start" textLength="17.71" lengthAdjust="spacingAndGlyphs">PsiI</text>
<text x="90.19" y="470.83" font-family='"DejaVu Sans", "Liberation Sans", sans-serif' font-size="7.3" fill="#333" text-anchor="end" textLength="25.19" lengthAdjust="spacingAndGlyphs">(4413)</text>
<polyline points="142.81,456.88 133.09,460.44 116.5,465.61" fill="none" stroke="#8c8c8c" stroke-width="0.9"/>
<text x="88.1" y="459.88" font-family='"DejaVu Sans", "Liberation Sans", sans-serif' font-size="8" font-weight="bold" fill="#111" text-anchor="start" textLength="22" lengthAdjust="spacingAndGlyphs">HpaI</text>
<text x="82.3" y="459.63" font-family='"DejaVu Sans", "Liberation Sans", sans-serif' font-size="7.3" fill="#333" text-anchor="end" textLength="25.19" lengthAdjust="spacingAndGlyphs">(4433)</text>
<polyline points="141.16,452.24 131.37,455.6 112.9,456.53" fill="none" stroke="#8c8c8c" stroke-width="0.9"/>
<text x="86.36" y="448.58" font-family='"DejaVu Sans", "Liberation Sans", sans-serif' font-size="8" font-weight="bold" fill="#111" text-anchor="start" textLength="20.64" lengthAdjust="spacingAndGlyphs">MfeI</text>
<text x="80.56" y="448.33" font-family='"DejaVu Sans", "Liberation Sans", sans-serif' font-size="7.3" fill="#333" text-anchor="end" textLength="25.19" lengthAdjust="spacingAndGlyphs">(4442)</text>
<polyline points="140.45,450.14 130.63,453.41 109.8,448.27" fill="none" stroke="#8c8c8c" stroke-width="0.9"/>
<text x="85.97" y="436.18" font-family='"DejaVu Sans", "Liberation Sans", sans-serif' font-size="8" font-weight="bold" fill="#111" text-anchor="start" textLength="18.23" lengthAdjust="spacingAndGlyphs">ClaI</text>
<text x="44.76" y="436.18" font-family='"DejaVu Sans", "Liberation Sans", sans-serif' font-size="8" font-weight="bold" fill="#111" text-anchor="start" textLength="27.44" lengthAdjust="spacingAndGlyphs">BspDI</text>
<text x="79.08" y="436.18" font-family='"DejaVu Sans", "Liberation Sans", sans-serif' font-size="8" fill="#555" text-anchor="middle" textLength="3.63" lengthAdjust="spacingAndGlyphs">-</text>
<text x="38.96" y="435.93" font-family='"DejaVu Sans", "Liberation Sans", sans-serif' font-size="7.3" fill="#333" text-anchor="end" textLength="25.19" lengthAdjust="spacingAndGlyphs">(4528)</text>
<polyline points="134.61,429.79 124.55,432.22 107,432.94" fill="none" stroke="#8c8c8c" stroke-width="0.9"/>
<text x="69.73" y="424.38" font-family='"DejaVu Sans", "Liberation Sans", sans-serif' font-size="8" font-weight="bold" fill="#111" text-anchor="start" textLength="30.97" lengthAdjust="spacingAndGlyphs">BamHI</text>
<text x="63.93" y="424.13" font-family='"DejaVu Sans", "Liberation Sans", sans-serif' font-size="7.3" fill="#333" text-anchor="end" textLength="25.19" lengthAdjust="spacingAndGlyphs">(4535)</text>
<polyline points="134.21,428.11 124.14,430.47 103.5,424.49" fill="none" stroke="#8c8c8c" stroke-width="0.9"/>
<text x="78.61" y="407.58" font-family='"DejaVu Sans", "Liberation Sans", sans-serif' font-size="8" font-weight="bold" fill="#111" text-anchor="start" textLength="20.39" lengthAdjust="spacingAndGlyphs">SspI</text>
<text x="72.81" y="407.33" font-family='"DejaVu Sans", "Liberation Sans", sans-serif' font-size="7.3" fill="#333" text-anchor="end" textLength="25.19" lengthAdjust="spacingAndGlyphs">(4653)</text>
<polyline points="129.25,399.5 101.8,402.97" fill="none" stroke="#8c8c8c" stroke-width="0.9"/>
<text x="70.58" y="337.01" font-family='"Liberation Sans", "DejaVu Sans", sans-serif' font-size="9.2" fill="#9933ff" text-anchor="start" textLength="28.62" lengthAdjust="spacingAndGlyphs">Amp-R</text>
<text x="64.58" y="336.33" font-family='"DejaVu Sans", "Liberation Sans", sans-serif' font-size="7.3" fill="#9933ff" text-anchor="end" textLength="54.2" lengthAdjust="spacingAndGlyphs">(4889 .. 4908)</text>
<path d="M137.73,342.51 A240.8,240.8 0 0,1 138.31,338.03" fill="none" stroke="#9933ff" stroke-width="1.6"/>
<polyline points="138.31,338.03 119.79,335.44 106,334" fill="none" stroke="#9933ff" stroke-width="0.9"/>
<text x="108.86" y="237.38" font-family='"DejaVu Sans", "Liberation Sans", sans-serif' font-size="8" font-weight="bold" fill="#111" text-anchor="start" textLength="20.64" lengthAdjust="spacingAndGlyphs">AseI</text>
<text x="103.06" y="237.13" font-family='"DejaVu Sans", "Liberation Sans", sans-serif' font-size="7.3" fill="#333" text-anchor="end" textLength="25.19" lengthAdjust="spacingAndGlyphs">(5283)</text>
<polyline points="159.27,249.83 136,237.9" fill="none" stroke="#8c8c8c" stroke-width="0.9"/>
<text x="132.63" y="195.28" font-family='"DejaVu Sans", "Liberation Sans", sans-serif' font-size="8" font-weight="bold" fill="#111" text-anchor="start" textLength="21.87" lengthAdjust="spacingAndGlyphs">AhdI</text>
<text x="126.83" y="195.03" font-family='"DejaVu Sans", "Liberation Sans", sans-serif' font-size="7.3" fill="#333" text-anchor="end" textLength="25.19" lengthAdjust="spacingAndGlyphs">(5458)</text>
<polyline points="183.42,214.2 160,196.3" fill="none" stroke="#8c8c8c" stroke-width="0.9"/>
<text x="259.45" y="71.81" font-family='"Liberation Sans", "DejaVu Sans", sans-serif' font-size="9.2" fill="#9933ff" text-anchor="start" textLength="52.15" lengthAdjust="spacingAndGlyphs">pBR322ori-F</text>
<text x="253.45" y="71.13" font-family='"DejaVu Sans", "Liberation Sans", sans-serif' font-size="7.3" fill="#9933ff" text-anchor="end" textLength="54.2" lengthAdjust="spacingAndGlyphs">(6191 .. 6210)</text>
<path d="M335.7,123.08 A251.6,251.6 0 0,1 340.37,122.35" fill="none" stroke="#9933ff" stroke-width="1.6"/>
<polyline points="335.7,123.08 334.41,115.29 315,73" fill="none" stroke="#9933ff" stroke-width="0.9"/>
<circle cx="376.8" cy="371.3" r="246.25" fill="none" stroke="#1e1e1e" stroke-width="5.8"/>
<circle cx="376.8" cy="371.3" r="246.7" fill="none" stroke="#e4e4e4" stroke-width="1.15"/>
<g opacity="0.42">
<path d="M618.4,10.2 L623.0,0.2 L625.8,0.2 L621.4,10.2 Z" fill="#7fb8e6"/><path d="M625.0,8.4 L626.6,4.6 L628.4,8.4 Z" fill="#8fc0e8"/>
<text x="635.5" y="9.3" font-family='"DejaVu Sans", "Liberation Sans", sans-serif' font-size="10.8" fill="#8a8a8a" textLength="122.5" lengthAdjust="spacingAndGlyphs">Created with <tspan fill="#e08a80">Snap</tspan>Gene<tspan font-size="7" dy="-3">®</tspan></text>
</g>
</svg>
</body></html>
